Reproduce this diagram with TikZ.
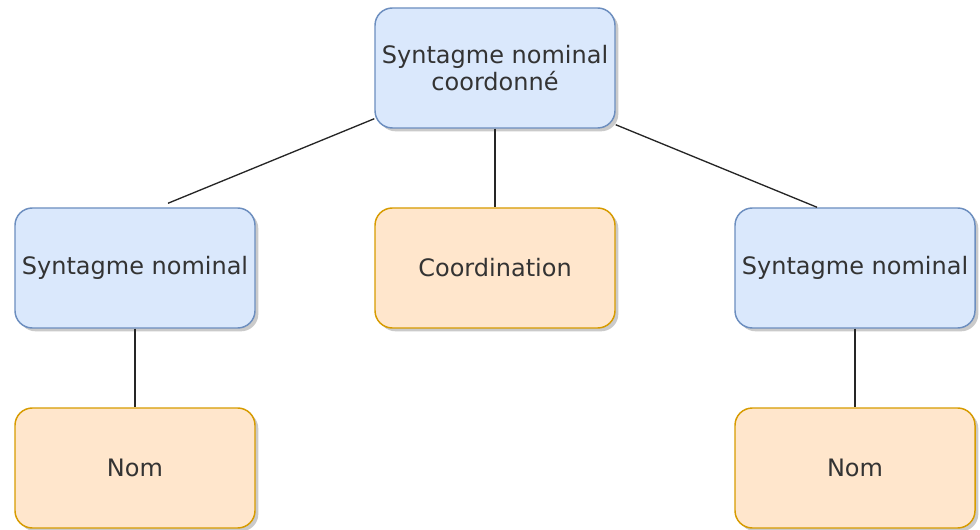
\documentclass[tikz,border=0pt]{standalone}
\usepackage{fontspec}
\setmainfont{DejaVu Sans}
\usetikzlibrary{calc,shadows}
\definecolor{bfill}{HTML}{DAE8FC}
\definecolor{bdraw}{HTML}{6C8EBF}
\definecolor{ofill}{HTML}{FFE6CC}
\definecolor{odraw}{HTML}{D79B00}
\definecolor{txt}{HTML}{333333}
\tikzset{
  box/.style={rounded corners=13pt, minimum width=180pt, minimum height=90pt, line width=1.1pt,
    align=center, text=txt, font=\fontsize{18}{20.5}\selectfont,
    drop shadow={shadow xshift=2.5pt, shadow yshift=-2.5pt, fill=black!35, opacity=0.6}},
  bluebox/.style={box, fill=bfill, draw=bdraw},
  orangebox/.style={box, fill=ofill, draw=odraw},
  link/.style={draw=black!85, line width=1pt}
}
\begin{document}
\begin{tikzpicture}[x=0.75pt,y=-0.75pt]
\useasboundingbox (0,0) rectangle (980,530);
\node[bluebox] (top) at (495,68) {Syntagme nominal\\coordonné};
\node[bluebox] (sn1) at (135,268) {Syntagme nominal};
\node[orangebox] (coord) at (495,268) {Coordination};
\node[bluebox] (sn2) at (855,268) {Syntagme nominal};
\node[orangebox] (nom1) at (135,468) {Nom};
\node[orangebox] (nom2) at (855,468) {Nom};
\draw[link] ($(top.south west)+(0,-10)$) -- ($(sn1.north)+(33,-4)$);
\draw[link] (top.south) -- (coord.north);
\draw[link] ($(top.south east)+(0,-4)$) -- ($(sn2.north)+(-38,0)$);
\draw[link] (sn1.south) -- (nom1.north);
\draw[link] (sn2.south) -- (nom2.north);
\end{tikzpicture}
\end{document}
